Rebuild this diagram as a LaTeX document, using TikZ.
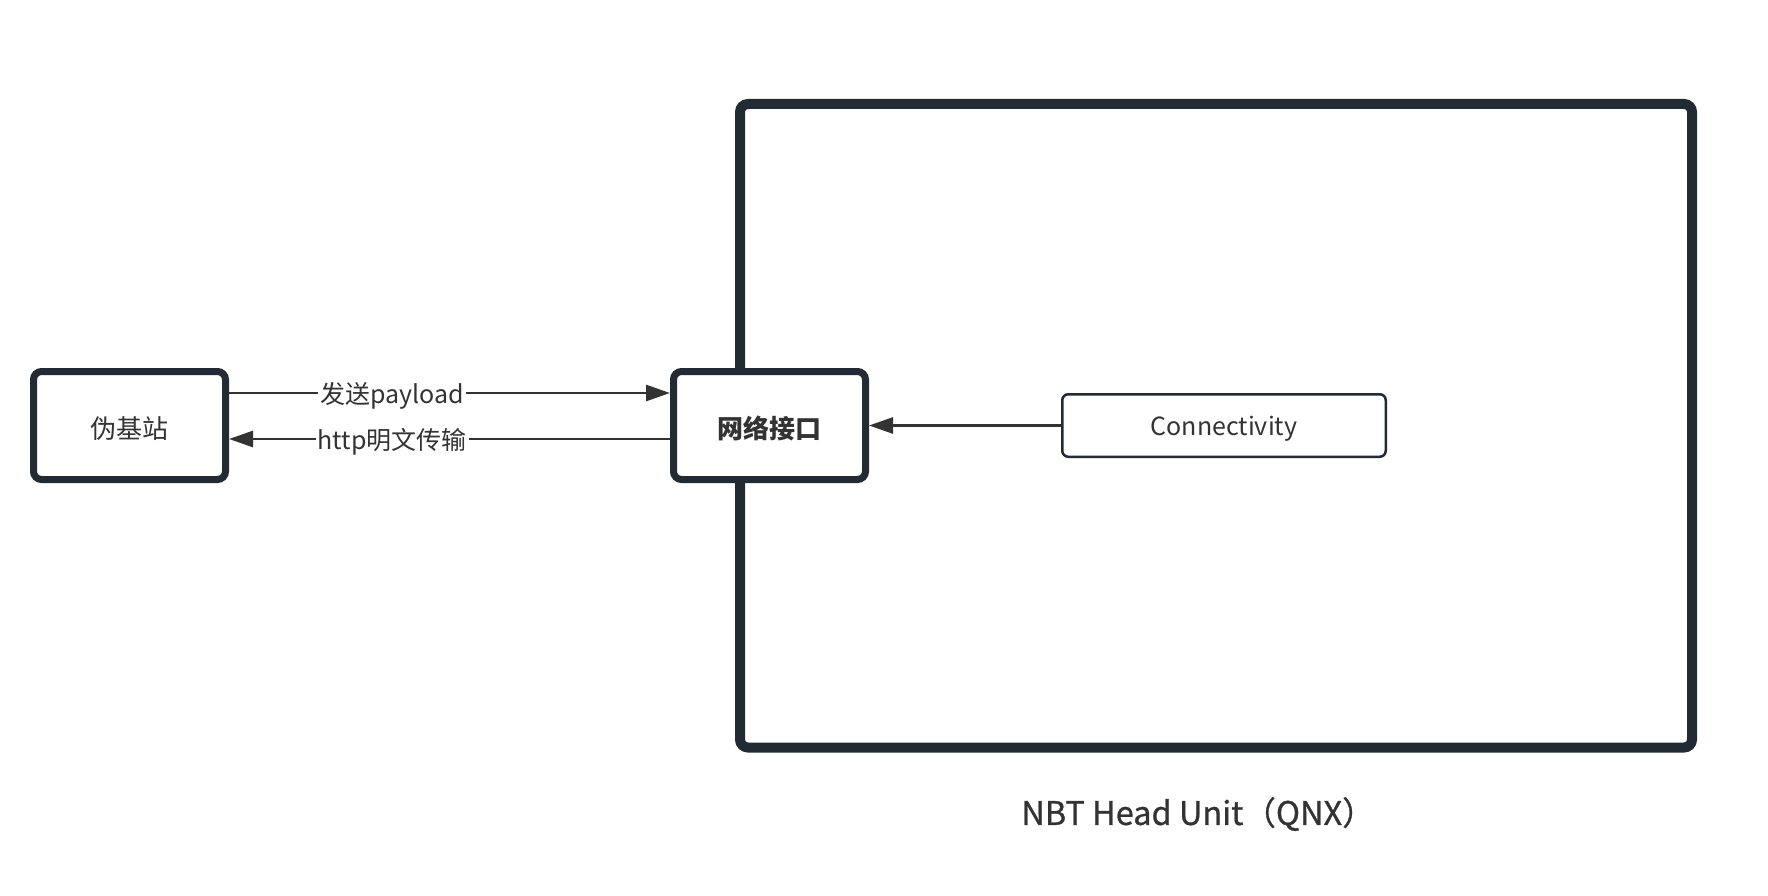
\documentclass[tikz,border=0pt]{standalone}
\usepackage{fontspec}
\setmainfont{Noto Sans CJK SC}
\newfontfamily\titlefont[FakeBold=0.8]{Noto Sans CJK SC}
\usetikzlibrary{arrows.meta}
\definecolor{boxline}{HTML}{222A33}
\definecolor{txt}{HTML}{333333}
\newcommand{\dn}[1]{\raisebox{-3pt}[\height][\depth]{#1}}
\begin{document}
\begin{tikzpicture}[x=1pt,y=-1pt,
  heavybox/.style={draw=boxline, line width=7pt, fill=white, rounded corners=8pt,
    minimum width=192pt, minimum height=108pt, inner sep=0pt, text=txt,
    font=\fontsize{26}{30}\selectfont},
  lightbox/.style={draw=boxline, line width=2.5pt, fill=white, rounded corners=6pt,
    minimum width=323.5pt, minimum height=62.5pt, inner sep=0pt, text=txt,
    font=\fontsize{25}{30}\selectfont},
  conn/.style={draw=txt, line width=2.7pt, -{Triangle[length=24pt,width=16pt]}},
  elabel/.style={fill=white, inner sep=2pt, text=txt, font=\fontsize{25}{30}\selectfont}
]
\useasboundingbox (0,0) rectangle (1768,896);
\fill[white] (0,0) rectangle (1768,896);
\draw[line width=10pt, boxline, rounded corners=8pt] (740,104) rectangle (1692,747.5);
\node[heavybox] (fbs) at (129.5,425.5) {\dn{伪基站}};
\node[heavybox, font=\fontsize{26}{30}\selectfont\bfseries] (wljk) at (769.5,425.5) {\dn{网络接口}};
\node[lightbox] (conn) at (1224,425.5) {\dn{Connectivity}};
\node[text=txt, font=\titlefont\fontsize{32.5}{36}\selectfont, anchor=center] (title) at (1198,814) {NBT Head Unit（QNX）};
\draw[conn] ([yshift=32.5pt]fbs.east) -- node[elabel, pos=0.37] (l1) {\dn{发送payload}} ([yshift=32.5pt]wljk.west);
\draw[conn] ([yshift=-13.5pt]wljk.west) -- node[elabel, pos=0.63] (l2) {\dn{http明文传输}} ([yshift=-13.5pt]fbs.east);
\draw[conn] (conn.west) -- (wljk.east);
\end{tikzpicture}
\end{document}
